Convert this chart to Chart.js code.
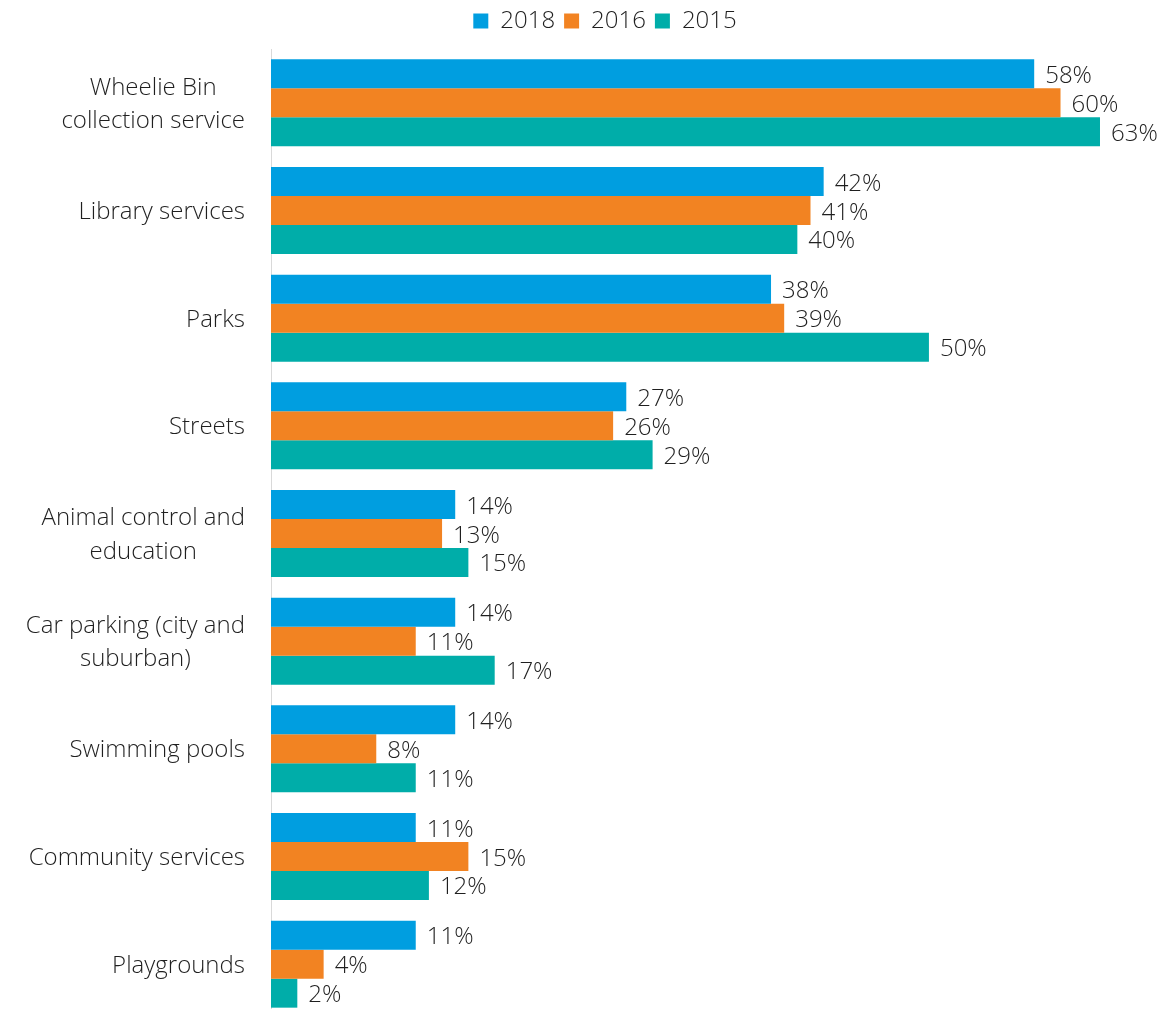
<!DOCTYPE html>
<html>
<head>
<meta charset="utf-8">
<script src="https://cdn.jsdelivr.net/npm/chart.js@4.4.0/dist/chart.umd.min.js"></script>
<style>
  html, body { margin: 0; padding: 0; background: #ffffff; overflow: hidden; }
  #wrap { width: 1175px; height: 1018px; position: relative; }
</style>
</head>
<body>
<div id="wrap"><canvas id="chart"></canvas></div>
<script>
// Service categories (multi-line labels are arrays of lines)
const categories = [
  ['Wheelie Bin', 'collection service'],
  'Library services',
  'Parks',
  'Streets',
  ['Animal control and', 'education'],
  ['Car parking (city and', 'suburban)'],
  'Swimming pools',
  'Community services',
  'Playgrounds'
];

// Survey years
const seriesNames = ['2018', '2016', '2015'];

// Percent of respondents per service and year
const values2018 = [58, 42, 38, 27, 14, 14, 14, 11, 11];
const values2016 = [60, 41, 39, 26, 13, 11, 8, 15, 4];
const values2015 = [63, 40, 50, 29, 15, 17, 11, 12, 2];

const seriesColors = ['#009EE0', '#F28322', '#00ADA9'];

const FONT_FAMILY = "'Open Sans', 'Liberation Sans', sans-serif";
const TEXT_COLOR = '#1f1f1f';

// Draws centred multi-line category labels and the value labels at bar ends
const labelPlugin = {
  id: 'labelPlugin',
  afterDatasetsDraw(chart) {
    const ctx = chart.ctx;
    const yScale = chart.scales.y;
    ctx.save();
    ctx.font = '300 24px ' + FONT_FAMILY;
    ctx.fillStyle = TEXT_COLOR;
    ctx.textBaseline = 'alphabetic';

    // category labels
    const rightEdge = yScale.right - 26;
    const lineGap = 33.4;
    categories.forEach((cat, i) => {
      const lines = Array.isArray(cat) ? cat : [cat];
      const cy = yScale.getPixelForValue(i);
      const maxW = Math.max(...lines.map(l => ctx.measureText(l).width));
      const cx = rightEdge - maxW / 2;
      ctx.textAlign = 'center';
      lines.forEach((line, j) => {
        const offset = (j - (lines.length - 1) / 2) * lineGap;
        ctx.fillText(line, cx, cy + offset + 8.5);
      });
    });

    // value labels
    ctx.textAlign = 'left';
    chart.data.datasets.forEach((ds, di) => {
      const meta = chart.getDatasetMeta(di);
      meta.data.forEach((bar, i) => {
        ctx.fillText(ds.data[i] + '%', bar.x + 11, bar.y + 9);
      });
    });
    ctx.restore();
  }
};

new Chart(document.getElementById('chart'), {
  type: 'bar',
  data: {
    labels: categories,
    datasets: [
      { label: seriesNames[0], data: values2018, backgroundColor: seriesColors[0] },
      { label: seriesNames[1], data: values2016, backgroundColor: seriesColors[1] },
      { label: seriesNames[2], data: values2015, backgroundColor: seriesColors[2] }
    ]
  },
  options: {
    indexAxis: 'y',
    responsive: true,
    maintainAspectRatio: false,
    animation: false,
    layout: { padding: { left: 35, right: 0, top: 0, bottom: 0 } },
    datasets: {
      bar: { categoryPercentage: 0.808, barPercentage: 1.0, borderWidth: 0 }
    },
    scales: {
      x: {
        position: 'top',
        min: 0,
        max: 68.7,
        grid: { display: false },
        border: { display: false },
        ticks: { display: false },
        afterFit(scale) { scale.height = 6; }
      },
      y: {
        grid: { display: false, drawTicks: false },
        border: { display: true, color: '#D9D9D9', width: 1 },
        ticks: { display: false },
        afterFit(scale) { scale.width = 236; }
      }
    },
    plugins: {
      legend: {
        position: 'top',
        labels: {
          font: { family: FONT_FAMILY, size: 24, weight: '300' },
          color: TEXT_COLOR,
          boxWidth: 15,
          boxHeight: 15,
          padding: 9
        }
      },
      tooltip: { enabled: false }
    }
  },
  plugins: [labelPlugin]
});
</script>
</body>
</html>
